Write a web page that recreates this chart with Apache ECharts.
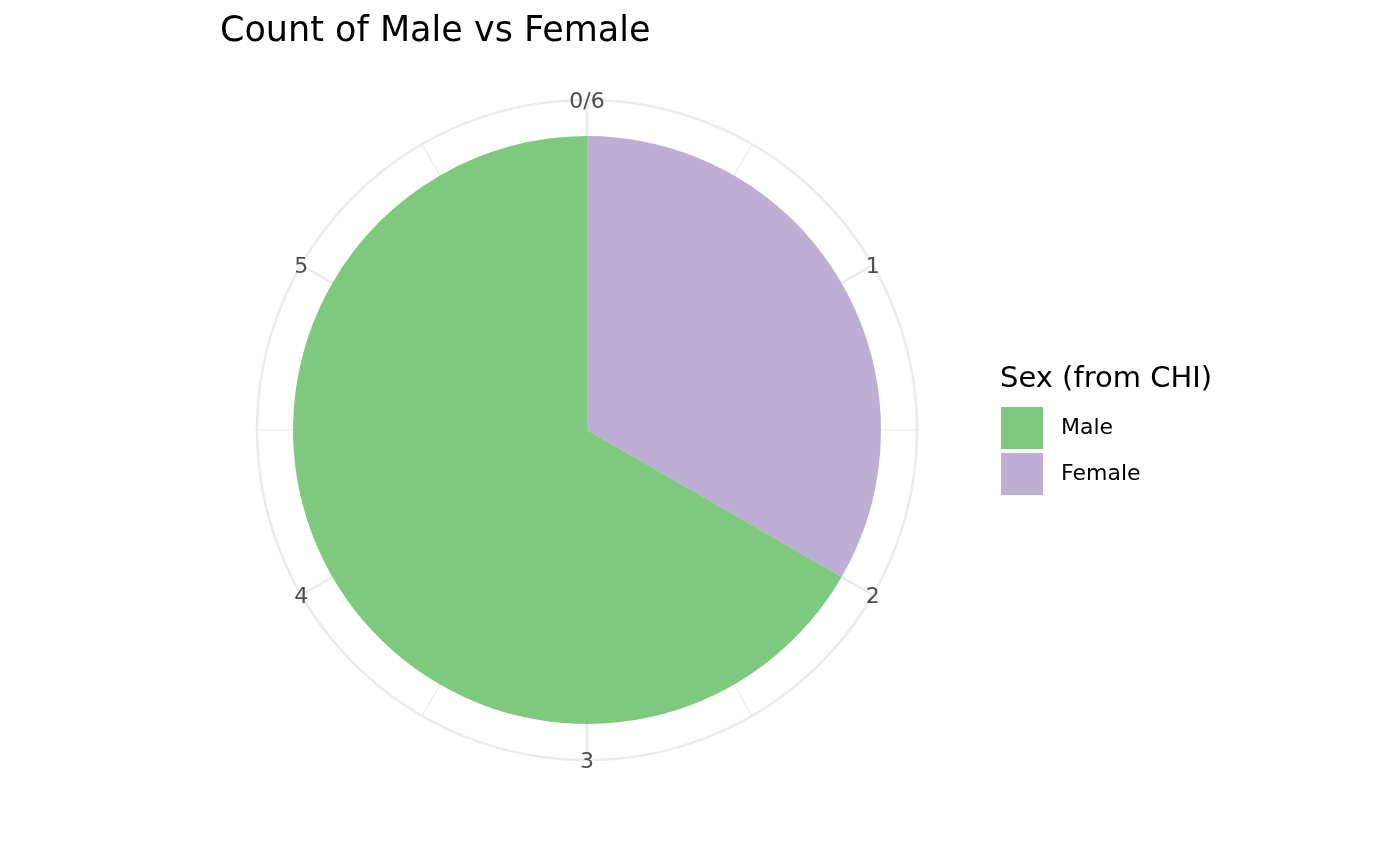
<!DOCTYPE html>
<html>
<head>
<meta charset="utf-8">
<script src="https://cdn.jsdelivr.net/npm/echarts@6/dist/echarts.min.js"></script>
<style>html,body{margin:0;padding:0;background:#fff}#chart{width:1400px;height:865px}</style>
</head>
<body>
<div id="chart"></div>
<script>
// Data
const sexCategories = ['Female', 'Male'];      // stacking order (clockwise from top)
const sexCounts = [2, 4];
const legendOrder = ['Male', 'Female'];
const sexColors = { Male: '#7FC97F', Female: '#BEAED4' };
const tickValues = [0, 1, 2, 3, 4, 5];
const tickLabels = ['0/6', '1', '2', '3', '4', '5'];
const totalCount = 6;

const FONT = 'DejaVu Sans';
const chart = echarts.init(document.getElementById('chart'), null, { renderer: 'canvas' });

const barSeries = sexCategories.map((name, i) => ({
  type: 'bar',
  name: name,
  coordinateSystem: 'polar',
  polarIndex: 1,
  stack: 'sex',
  data: [sexCounts[i]],
  barWidth: '100%',
  itemStyle: { color: sexColors[name] },
  emphasis: { disabled: true },
  z: 3
}));

const labelSeries = {
  type: 'scatter',
  coordinateSystem: 'polar',
  polarIndex: 0,
  symbolSize: 0,
  silent: true,
  data: tickValues.map(v => [1, v]),
  label: {
    show: true,
    position: 'inside',
    offset: [0, 2],
    formatter: p => tickLabels[p.dataIndex],
    fontFamily: FONT,
    fontSize: 22,
    color: '#4D4D4D',
    textBorderWidth: 0,
    opacity: 1
  },
  emphasis: { disabled: true },
  z: 4
};

chart.setOption({
  animation: false,
  backgroundColor: '#ffffff',
  title: [
    { text: 'Count of Male vs Female', left: 215, top: 9,
      textStyle: { fontFamily: FONT, fontSize: 35, fontWeight: 'normal', color: '#000000' } },
    { text: 'Sex (from CHI)', left: 995, top: 360,
      textStyle: { fontFamily: FONT, fontSize: 29, fontWeight: 'normal', color: '#000000' } }
  ],
  legend: {
    data: legendOrder,
    orient: 'vertical',
    left: 1001,
    top: 407,
    itemWidth: 42,
    itemHeight: 42,
    itemGap: 4,
    icon: 'rect',
    selectedMode: false,
    padding: 0,
    textStyle: { fontFamily: FONT, fontSize: 22, color: '#000000', padding: [0, 0, 0, 13] }
  },
  polar: [
    { center: [587, 430], radius: 330 },
    { center: [587, 430], radius: 294 }
  ],
  angleAxis: [
    {
      polarIndex: 0, type: 'value', min: 0, max: totalCount, interval: 1,
      startAngle: 90, clockwise: true,
      axisLine: { show: true, lineStyle: { color: '#EBEBEB', width: 2.5 } },
      axisTick: { show: false },
      axisLabel: { show: false },
      splitLine: { show: true, lineStyle: { color: '#EBEBEB', width: 2.5 } },
      minorTick: { show: false, splitNumber: 2 },
      minorSplitLine: { show: true, lineStyle: { color: '#EBEBEB', width: 1.2 } }
    },
    {
      polarIndex: 1, type: 'value', min: 0, max: totalCount,
      startAngle: 90, clockwise: true, show: false,
      axisLine: { show: false }, axisTick: { show: false }, axisLabel: { show: false },
      splitLine: { show: false }
    }
  ],
  radiusAxis: [
    { polarIndex: 0, type: 'value', min: 0, max: 1, show: false,
      axisLine: { show: false }, axisTick: { show: false }, axisLabel: { show: false }, splitLine: { show: false } },
    { polarIndex: 1, type: 'category', data: ['count'], show: false,
      axisLine: { show: false }, axisTick: { show: false }, axisLabel: { show: false }, splitLine: { show: false } }
  ],
  series: barSeries.concat([labelSeries])
});
</script>
</body>
</html>
